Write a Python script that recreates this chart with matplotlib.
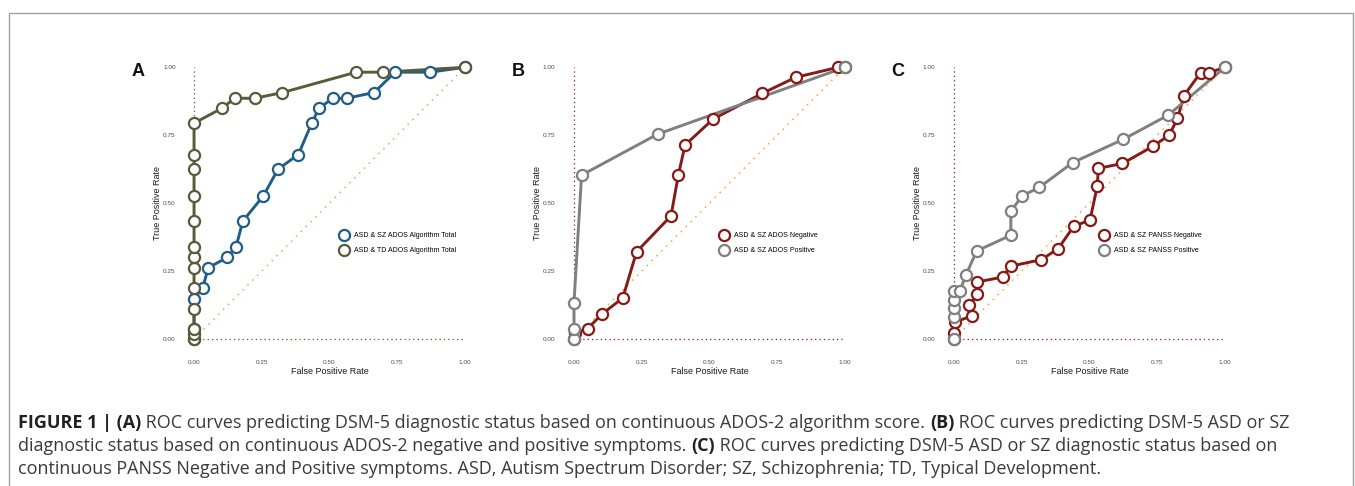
import matplotlib
matplotlib.use('Agg')
import matplotlib.pyplot as plt
from matplotlib.lines import Line2D
from matplotlib.patches import Rectangle

# Panel A: ADOS-2 algorithm total
a_sz_fpr = [0.0, 0.0, 0.0, 0.032, 0.053, 0.123, 0.155, 0.18, 0.256, 0.31, 0.385, 0.434,
            0.461, 0.512, 0.563, 0.664, 0.742, 0.871, 1.0]
a_sz_tpr = [0.0, 0.038, 0.149, 0.189, 0.263, 0.30, 0.339, 0.434, 0.527, 0.625, 0.679, 0.794,
            0.849, 0.886, 0.886, 0.907, 0.982, 0.982, 1.0]
a_td_fpr = [0.0, 0.0, 0.0, 0.0, 0.0, 0.0, 0.0, 0.0, 0.0, 0.0, 0.0, 0.0, 0.0,
            0.102, 0.151, 0.225, 0.326, 0.598, 0.699, 1.0]
a_td_tpr = [0.0, 0.02, 0.038, 0.112, 0.189, 0.263, 0.30, 0.339, 0.434, 0.527, 0.625, 0.679, 0.794,
            0.849, 0.886, 0.886, 0.907, 0.982, 0.982, 1.0]

# Panel B: ADOS negative / positive
b_neg_fpr = [0.0, 0.004, 0.05, 0.105, 0.18, 0.231, 0.358, 0.385, 0.41, 0.514, 0.695, 0.818, 0.975, 1.0]
b_neg_tpr = [0.0, 0.022, 0.038, 0.093, 0.151, 0.321, 0.453, 0.603, 0.714, 0.81, 0.904, 0.963, 1.0, 1.0]
b_pos_fpr = [0.0, 0.0, 0.0, 0.028, 0.309, 1.0]
b_pos_tpr = [0.0, 0.038, 0.133, 0.603, 0.754, 1.0]

# Panel C: PANSS negative / positive
c_neg_fpr = [0.0, 0.0, 0.004, 0.065, 0.057, 0.087, 0.087, 0.18, 0.209, 0.323, 0.385, 0.443,
             0.502, 0.529, 0.533, 0.622, 0.736, 0.795, 0.825, 0.849, 0.91, 0.941, 1.0]
c_neg_tpr = [0.0, 0.022, 0.063, 0.084, 0.124, 0.165, 0.21, 0.228, 0.268, 0.292, 0.333, 0.416,
             0.437, 0.563, 0.628, 0.646, 0.71, 0.751, 0.812, 0.896, 0.98, 0.98, 1.0]
c_pos_fpr = [0.0, 0.0, 0.0, 0.0, 0.0, 0.022, 0.044, 0.084, 0.21, 0.21, 0.252, 0.315, 0.438,
             0.625, 0.791, 1.0]
c_pos_tpr = [0.0, 0.081, 0.115, 0.143, 0.177, 0.177, 0.235, 0.324, 0.382, 0.47, 0.527, 0.558,
             0.649, 0.735, 0.824, 1.0]

ticks = [0.0, 0.25, 0.5, 0.75, 1.0]
tick_labels = ['0.00', '0.25', '0.50', '0.75', '1.00']

BLUE = '#215d85'
OLIVE = '#595a3b'
RED = '#861a17'
GREY = '#7f7f7f'
ORANGE = '#ffa033'

plt.rcParams['font.family'] = ['Liberation Sans', 'DejaVu Sans']

fig = plt.figure(figsize=(13.55, 4.86), dpi=100)

panels = [
    ('A', 0.1332, [(a_sz_fpr, a_sz_tpr, BLUE, 'ASD & SZ ADOS Algorithm Total'),
                   (a_td_fpr, a_td_tpr, OLIVE, 'ASD & TD ADOS Algorithm Total')], OLIVE),
    ('B', 0.4136, [(b_neg_fpr, b_neg_tpr, RED, 'ASD & SZ ADOS Negative'),
                   (b_pos_fpr, b_pos_tpr, GREY, 'ASD & SZ ADOS Positive')], RED),
    ('C', 0.694, [(c_neg_fpr, c_neg_tpr, RED, 'ASD & SZ PANSS Negative'),
                  (c_pos_fpr, c_pos_tpr, GREY, 'ASD & SZ PANSS Positive')], RED),
]

for letter, left, series, refcol in panels:
    ax = fig.add_axes([left, 0.2745, 0.220, 0.615])
    ax.set_xlim(-0.05, 1.05)
    ax.set_ylim(-0.05, 1.05)
    for s in ax.spines.values():
        s.set_visible(False)
    ax.set_xticks(ticks)
    ax.set_yticks(ticks)
    ax.set_xticklabels(tick_labels)
    ax.set_yticklabels(tick_labels)
    ax.tick_params(length=0, labelsize=4.6, labelcolor='#4d4d4d')
    ax.tick_params(axis='x', pad=5)
    ax.tick_params(axis='y', pad=3.5)
    ax.set_xlabel('False Positive Rate', fontsize=6.5, labelpad=1.5, color='#1a1a1a')
    ax.set_ylabel('True Positive Rate', fontsize=6.5, labelpad=0.5, color='#1a1a1a')

    # reference lines
    ax.plot([0, 0], [0, 1], color=refcol, lw=0.9, ls=(0, (1, 2.5)), zorder=1)
    ax.plot([0, 1], [0, 0], color=refcol, lw=0.9, ls=(0, (1, 2.5)), zorder=1)
    ax.plot([0, 1], [0, 1], color=ORANGE, lw=1.1, ls=(0, (1, 3.5)), zorder=1)

    handles = []
    for fpr, tpr, col, lab in series:
        ax.plot(fpr, tpr, color=col, lw=2.1, zorder=2, solid_capstyle='round')
    for fpr, tpr, col, lab in series:
        ax.plot(fpr, tpr, ls='none', marker='o', ms=8, mfc='white', mec=col, mew=1.6, zorder=3)
        handles.append(Line2D([], [], ls='none', marker='o', ms=8, mfc='white', mec=col, mew=1.6))

    ax.legend(handles, [s[3] for s in series], loc='center left', bbox_to_anchor=(0.525, 0.366),
              frameon=False, fontsize=5, borderpad=0, handlelength=1.0, handletextpad=1.0,
              labelspacing=1.1)

    ax.text(-0.143, 0.941, letter, transform=ax.transAxes, fontsize=13, fontweight='bold',
            ha='center', va='center', color='#111111')

# outer frame
fig.add_artist(Rectangle((9 / 1355, -0.1), 1344 / 1355, 1.1 - 13 / 486, transform=fig.transFigure,
                         fill=False, edgecolor='#a0a0a0', lw=1.0))

# caption
cap_font = ['Open Sans', 'DejaVu Sans']
caption = [
    [('FIGURE 1 | (A)', 'bold'),
     (' ROC curves predicting DSM-5 diagnostic status based on continuous ADOS-2 algorithm score. ', 'normal'),
     ('(B)', 'bold'), (' ROC curves predicting DSM-5 ASD or SZ', 'normal')],
    [('diagnostic status based on continuous ADOS-2 negative and positive symptoms. ', 'normal'),
     ('(C)', 'bold'), (' ROC curves predicting DSM-5 ASD or SZ diagnostic status based on', 'normal')],
    [('continuous PANSS Negative and Positive symptoms. ASD, Autism Spectrum Disorder; SZ, '
      'Schizophrenia; TD, Typical Development.', 'normal')],
]
renderer = fig.canvas.get_renderer()


def draw_line(runs, y, size, x0=18):
    x = x0
    made = []
    for txt, w in runs:
        col = '#231f20' if w == 'bold' else '#3a3a3a'
        t = fig.text(x / 1355, y / 486, txt, fontsize=size, fontweight=w, family=cap_font,
                     ha='left', va='center', color=col)
        x += t.get_window_extent(renderer).width
        made.append(t)
    return x, made


# size the caption so the first line spans the same width as in the figure
end, tmp = draw_line(caption[0], 0, 10)
for t in tmp:
    t.remove()
cap_size = 10 * (1293 - 18) / (end - 18)

for i, line in enumerate(caption):
    draw_line(line, 486 - (423 + 23 * i), cap_size)

fig.savefig('out.png', dpi=100)
